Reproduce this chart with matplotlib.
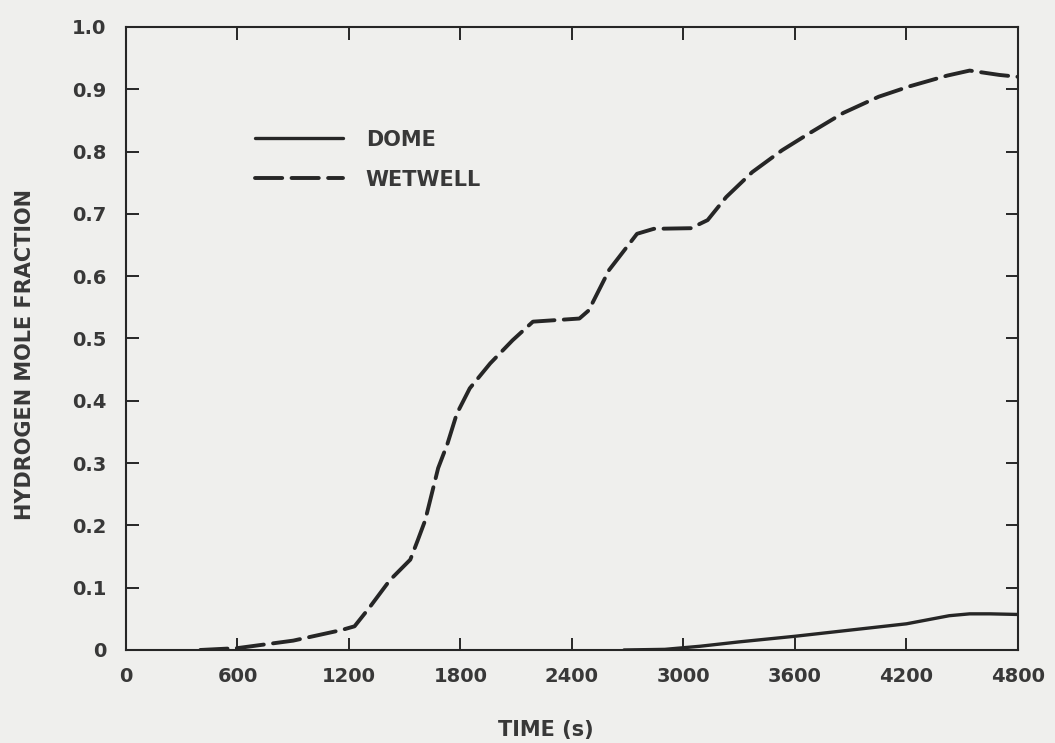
import matplotlib.pyplot as plt

# values
time_wetwell = [400, 600, 900, 1160, 1230, 1310, 1420, 1530, 1570, 1610, 1650, 1680,
                1730, 1780, 1850, 1960, 2080, 2190, 2440, 2490, 2600, 2750, 2840, 3040,
                3130, 3230, 3370, 3530, 3670, 3860, 4050, 4220, 4420, 4540, 4700, 4800]
h2_wetwell = [0.0, 0.003, 0.015, 0.032, 0.038, 0.068, 0.112, 0.145, 0.176, 0.208, 0.256, 0.292,
              0.331, 0.379, 0.42, 0.46, 0.497, 0.527, 0.532, 0.545, 0.61, 0.668, 0.676, 0.677,
              0.69, 0.727, 0.767, 0.802, 0.828, 0.862, 0.888, 0.905, 0.922, 0.93, 0.923, 0.92]

time_dome = [2680, 2900, 3090, 3300, 3600, 3900, 4200, 4430, 4540, 4650, 4800]
h2_dome = [0.0, 0.001, 0.006, 0.013, 0.022, 0.032, 0.042, 0.055, 0.058, 0.058, 0.057]

x_ticks = [0, 600, 1200, 1800, 2400, 3000, 3600, 4200, 4800]
y_ticks = [0, 0.1, 0.2, 0.3, 0.4, 0.5, 0.6, 0.7, 0.8, 0.9, 1.0]
y_labels = ["0", "0.1", "0.2", "0.3", "0.4", "0.5", "0.6", "0.7", "0.8", "0.9", "1.0"]

bg = "#efefed"
ink = "#262626"
txt = "#383838"

plt.rcParams["font.family"] = "DejaVu Sans"
plt.rcParams["font.weight"] = "bold"
plt.rcParams["axes.labelweight"] = "bold"

fig = plt.figure(figsize=(10.55, 7.43), dpi=100, facecolor=bg)
ax = fig.add_axes([0.1194, 0.1252, 0.8455, 0.8385])
ax.set_facecolor(bg)

ax.plot(time_dome, h2_dome, color=ink, lw=2.4, solid_capstyle="round", label="DOME")
ax.plot(time_wetwell, h2_wetwell, color=ink, lw=2.8, linestyle=(0, (7, 2.4)),
        dash_capstyle="round", label="WETWELL")

ax.set_xlim(0, 4800)
ax.set_ylim(0, 1.0)
ax.set_xticks(x_ticks)
ax.set_xticklabels([str(t) for t in x_ticks])
ax.set_yticks(y_ticks)
ax.set_yticklabels(y_labels)

ax.tick_params(direction="in", length=9, width=1.4, colors=ink,
               top=True, right=True, labelsize=14)
ax.tick_params(axis="x", pad=12)
ax.tick_params(axis="y", pad=14)
for lbl in ax.get_xticklabels() + ax.get_yticklabels():
    lbl.set_color(txt)
for s in ax.spines.values():
    s.set_linewidth(1.5)
    s.set_color(ink)

ax.set_xlabel("TIME (s)", fontsize=15, color=txt)
ax.set_ylabel("HYDROGEN MOLE FRACTION", fontsize=15, color=txt)
ax.xaxis.set_label_coords(0.471, -0.112)
ax.yaxis.set_label_coords(-0.102, 0.474)

leg = ax.legend(loc="upper left", bbox_to_anchor=(0.145, 0.835), frameon=False,
                borderpad=0, borderaxespad=0, fontsize=15, handlelength=4.2,
                labelspacing=0.95, handletextpad=1.1)
for t in leg.get_texts():
    t.set_color(txt)

fig.savefig("out.png", dpi=100, facecolor=bg)
